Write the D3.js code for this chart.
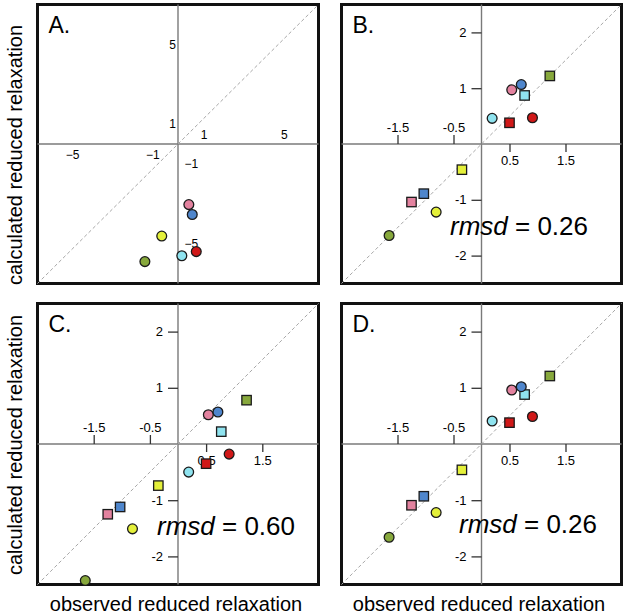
<!DOCTYPE html>
<html><head><meta charset="utf-8">
<script src="https://cdn.jsdelivr.net/npm/d3@7"></script>
<style>
body{margin:0;background:#fff}
svg text{font-family:"Liberation Sans",Arial,Helvetica,sans-serif;fill:#000}
</style>
</head><body>
<svg id="chart" width="625" height="616"></svg>
<script>
// ---- data ----
const groups = ["pink","blue","cyan","red","yellow","green"];
const groupColors = ["#e3829f","#4f86cc","#8fe3ef","#d01818","#e4f03a","#87a83c"];
const observedCircles = [0.54, 0.71, 0.19, 0.91, -0.81, -1.65];
const observedSquares = [-1.25, -1.03, 0.77, 0.50, -0.35, 1.22];

const calcCirclesA = [-3.04, -3.54, -5.61, -5.40, -4.62, -5.90];

const calcCirclesB = [0.97, 1.065, 0.46, 0.47, -1.22, -1.64];
const calcSquaresB = [-1.04, -0.89, 0.87, 0.38, -0.46, 1.22];

const calcCirclesC = [0.52, 0.57, -0.50, -0.18, -1.51, -2.43];
const calcSquaresC = [-1.25, -1.12, 0.22, -0.35, -0.74, 0.78];

const calcCirclesD = [0.96, 1.02, 0.41, 0.49, -1.22, -1.66];
const calcSquaresD = [-1.09, -0.93, 0.88, 0.38, -0.46, 1.21];

const panelLabels = ["A.", "B.", "C.", "D."];
const rmsdValues = [null, "0.26", "0.60", "0.26"];
const ticksA = [-5, -1, 1, 5];
const xTicksZoom = [-1.5, -0.5, 0.5, 1.5];
const yTicksZoom = [-2, -1, 1, 2];
const yAxisTitle = "calculated reduced relaxation";
const xAxisTitle = "observed reduced relaxation";

// ---- layout ----
const svg = d3.select("#chart");
const panels = [
  {box:{l:37.5, t:4.5, r:318.5, b:283.5}, lim:7,   circles:calcCirclesA, squares:null,         rmsdPos:null},
  {box:{l:341.5,t:4.5, r:621.5, b:283.5}, lim:2.5, circles:calcCirclesB, squares:calcSquaresB, rmsdPos:[450,235]},
  {box:{l:37.5, t:303.5,r:318.5,b:584.5}, lim:2.5, circles:calcCirclesC, squares:calcSquaresC, rmsdPos:[157,535]},
  {box:{l:341.5,t:303.5,r:621.5,b:584.5}, lim:2.5, circles:calcCirclesD, squares:calcSquaresD, rmsdPos:[459,533]}
];

panels.forEach((p, i) => {
  const b = p.box;
  const x = d3.scaleLinear().domain([-p.lim, p.lim]).range([b.l, b.r]);
  const y = d3.scaleLinear().domain([-p.lim, p.lim]).range([b.b, b.t]);
  const g = svg.append("g");

  // frame
  g.append("rect").attr("x", b.l).attr("y", b.t).attr("width", b.r - b.l).attr("height", b.b - b.t)
    .attr("fill", "none").attr("stroke", "#111").attr("stroke-width", 3);

  // axis lines through origin
  g.append("line").attr("x1", b.l).attr("x2", b.r).attr("y1", y(0)).attr("y2", y(0))
    .attr("stroke", "#7a7a7a").attr("stroke-width", 1.4);
  g.append("line").attr("x1", x(0)).attr("x2", x(0)).attr("y1", b.t).attr("y2", b.b)
    .attr("stroke", "#7a7a7a").attr("stroke-width", 1.4);

  // diagonal y = x
  g.append("line").attr("x1", x(-p.lim)).attr("y1", y(-p.lim)).attr("x2", x(p.lim)).attr("y2", y(p.lim))
    .attr("stroke", "#a8a8a8").attr("stroke-width", 1).attr("stroke-dasharray", "3.5,2.5");

  const styleAxis = (sel, fs) => {
    sel.select(".domain").remove();
    sel.selectAll(".tick line").attr("stroke", "#333").attr("stroke-width", 1.3);
    sel.selectAll(".tick text").attr("font-size", fs).attr("font-family", null);
  };

  if (i === 0) {
    const pos = ticksA.filter(v => v > 0), neg = ticksA.filter(v => v < 0);
    g.append("g").attr("transform", `translate(0,${y(0)})`)
      .call(d3.axisTop(x).tickValues(pos).tickSize(0).tickPadding(5).tickFormat(d3.format("d")))
      .call(s => styleAxis(s, 12)).selectAll(".tick text").attr("dx", 5.5);
    g.append("g").attr("transform", `translate(0,${y(0)})`)
      .call(d3.axisBottom(x).tickValues(neg).tickSize(0).tickPadding(6.4).tickFormat(d3.format("d")))
      .call(s => styleAxis(s, 12)).selectAll(".tick text").attr("dx", -5.5);
    g.append("g").attr("transform", `translate(${x(0)},0)`)
      .call(d3.axisLeft(y).tickValues(pos).tickSize(0).tickPadding(2).tickFormat(d3.format("d")))
      .call(s => styleAxis(s, 12));
    g.append("g").attr("transform", `translate(${x(0)},0)`)
      .call(d3.axisRight(y).tickValues(neg).tickSize(0).tickPadding(6.5).tickFormat(d3.format("d")))
      .call(s => styleAxis(s, 12));
  } else {
    const fmt = d => String(d);
    g.append("g").attr("transform", `translate(0,${y(0)})`)
      .call(d3.axisBottom(x).tickValues(xTicksZoom.filter(v => v > 0)).tickSize(8).tickPadding(4).tickFormat(fmt))
      .call(s => styleAxis(s, 13));
    g.append("g").attr("transform", `translate(0,${y(0)})`)
      .call(d3.axisTop(x).tickValues(xTicksZoom.filter(v => v < 0)).tickSize(9).tickPadding(3.5).tickFormat(fmt))
      .call(s => styleAxis(s, 13));
    g.append("g").attr("transform", `translate(${x(0)},0)`)
      .call(d3.axisLeft(y).tickValues(yTicksZoom).tickSize(10).tickPadding(5).tickFormat(fmt))
      .call(s => styleAxis(s, 13));
  }

  // panel letter
  g.append("text").attr("x", b.l + 11).attr("y", b.t + 28).attr("font-size", 23).text(panelLabels[i]);

  // markers
  if (p.squares) {
    const sq = 9.4;
    g.selectAll("rect.sq").data(p.squares.map((v, k) => ({ox: observedSquares[k], cy: v, c: groupColors[k]})))
      .join("rect").attr("class", "sq")
      .attr("x", d => x(d.ox) - sq / 2).attr("y", d => y(d.cy) - sq / 2)
      .attr("width", sq).attr("height", sq)
      .attr("fill", d => d.c).attr("stroke", "#1a1a1a").attr("stroke-width", 1.3);
  }
  g.selectAll("circle.ci").data(p.circles.map((v, k) => ({ox: observedCircles[k], cy: v, c: groupColors[k]})))
    .join("circle").attr("class", "ci")
    .attr("cx", d => x(d.ox)).attr("cy", d => y(d.cy)).attr("r", 4.9)
    .attr("fill", d => d.c).attr("stroke", "#1a1a1a").attr("stroke-width", 1.3);

  // rmsd
  if (rmsdValues[i]) {
    const t = g.append("text").attr("x", p.rmsdPos[0]).attr("y", p.rmsdPos[1]).attr("font-size", 26);
    t.append("tspan").attr("font-style", "italic").text("rmsd");
    t.append("tspan").text(" = " + rmsdValues[i]);
  }
});

// axis titles
[155, 445].forEach(cy => {
  svg.append("text").attr("transform", `translate(22,${cy}) rotate(-90)`)
    .attr("text-anchor", "middle").attr("font-size", 20).text(yAxisTitle);
});
[176, 479].forEach(cx => {
  svg.append("text").attr("x", cx).attr("y", 611).attr("text-anchor", "middle").attr("font-size", 20).text(xAxisTitle);
});
</script>
</body></html>
